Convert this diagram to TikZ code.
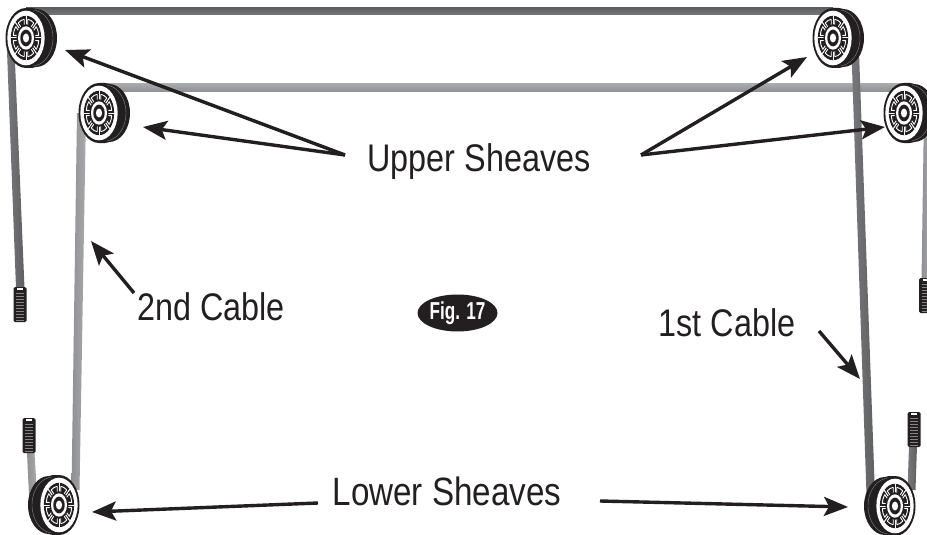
\documentclass[tikz,border=0pt]{standalone}
\usepackage{fontspec}
\setmainfont{Liberation Sans}[FakeStretch=0.84]
\newfontfamily\figfont{Liberation Sans}[FakeStretch=0.70]
\usetikzlibrary{arrows.meta,shapes.geometric}
\definecolor{capd}{HTML}{5F6062}
\definecolor{capm}{HTML}{77787B}
\definecolor{capl}{HTML}{A7A9AC}
\definecolor{capn}{HTML}{8F9193}
\definecolor{ink}{HTML}{231F20}
\tikzset{
  x=1pt,y=-1pt,
  lbl/.style={inner sep=0pt,text=ink,font=\fontsize{38.5}{40}\selectfont},
  callout/.style={draw=ink,line width=3.4pt,-{Stealth[length=24pt,width=19pt,inset=5pt]}},
  darkh/.style={top color=capd,bottom color=capm,draw=none},
  darkv/.style={left color=capm,right color=capd,draw=none},
  lighth/.style={top color=capl,bottom color=capn,draw=none},
  lightv/.style={left color=capn,right color=capl,draw=none},
  pics/sheave/.style={code={
    % rim behind the face, offset to one side
    \fill[ink] (10,-29) arc[start angle=-90,end angle=90,x radius=21,y radius=29]
       -- (0,29) -- (0,-29) -- cycle;
    \fill[ink] (0,-30) -- (6,-30) -- (10,-29) -- (10,29) -- (6,30) -- (0,30) -- cycle;
    \draw[white!45!ink,line width=.4pt] (6,-28) arc[start angle=-90,end angle=90,x radius=21,y radius=28];
    \begin{scope}[xscale=20.5,yscale=30]
      \fill[ink] (0,0) circle[radius=1];
      \fill[white] (0,0) circle[radius=.91];
      \fill[ink] (0,0) circle[radius=.74];
      \foreach \a in {0,45,...,315}{
        \draw[white,line width=1pt] (\a:.40) -- (\a:.74);
        \draw[white,line width=.9pt] (\a+11:.44) -- (\a+8:.63);
        \draw[white,line width=.9pt] (\a-11:.44) -- (\a-8:.63);
        \draw[white,line width=.9pt] (\a+8:.63) arc[start angle=\a+8,end angle=\a+37,radius=.63];
      }
      \fill[ink] (0,0) circle[radius=.46];
      \fill[white] (0,0) circle[radius=.39];
      \fill[ink] (0,0) circle[radius=.28];
      \fill[white] (0,0) circle[radius=.15];
    \end{scope}
  }},
  pics/thread/.style={code={
    \fill[ink,rounded corners=1.5pt] (-6.5,0) rectangle (6.5,35);
    \fill[white] (-3,1.2) rectangle (3,3);
    \foreach \k in {6,9,...,33}{
      \draw[white!45!ink,line width=.6pt] (-4,\k) -- (4,\k);
    }
  }}
}
\begin{document}
\begin{tikzpicture}
\useasboundingbox (0,0) rectangle (927,535);
\fill[white] (0,0) rectangle (927,535);

% named places
\coordinate (s1) at (26,38);
\coordinate (s2) at (99,113);
\coordinate (s3) at (833,38);
\coordinate (s4) at (904,113);
\coordinate (s5) at (59,505);
\coordinate (s6) at (895,506);

% 2nd cable
\shade[lighth] (99,84) -- (905,84) -- (905,91.5) -- (99,91.5) -- cycle;
\shade[lightv] (77,113) -- (86,113) -- (79.5,490) -- (71.5,490) -- cycle;
\shade[lightv] (27,453) -- (34.5,453) -- (37,495) -- (29,495) -- cycle;
\shade[lightv] (924,113) -- (932,113) -- (929,280) -- (921.5,280) -- cycle;
% 1st cable
\shade[darkh] (26,8) -- (833,8) -- (833,15) -- (26,15) -- cycle;
\shade[darkv] (6.5,38) -- (14,38) -- (24.5,288) -- (16,288) -- cycle;
\shade[darkv] (851,38) -- (858.5,38) -- (875,495) -- (866.5,495) -- cycle;
\shade[darkv] (909,446) -- (917,446) -- (915.5,490) -- (907.5,490) -- cycle;

% threaded ends
\pic at (20,287) {thread};
\pic at (925.5,278) {thread};
\pic at (29,418) {thread};
\pic at (914,412) {thread};

% sheaves
\pic at (s1) {sheave};
\pic at (s2) {sheave};
\pic at (s3) {sheave};
\pic at (s4) {sheave};
\pic[xscale=-1] at (s5) {sheave};
\pic[xscale=-1] at (s6) {sheave};

% labels
\node[lbl] (upper) at (479,162) {Upper Sheaves};
\node[lbl,font=\fontsize{39.5}{40}\selectfont] (lower) at (447,491) {Lower Sheaves};
\node[lbl] (second) at (211,307) {2nd Cable};
\node[lbl] (first) at (727,323) {1st Cable};
\node[fill=ink,ellipse,minimum width=80pt,minimum height=37pt,inner sep=0pt,text=white,
  font=\figfont\bfseries\fontsize{24.5}{25}\selectfont] (fig) at (457.5,313) {Fig. 17};

% arrow targets
\coordinate (t1) at (65,50);
\coordinate (t2) at (143,127);
\coordinate (t3) at (807,57);
\coordinate (t4) at (885,127);
\coordinate (t5) at (92,512);
\coordinate (t6) at (848,507);
\coordinate (t7) at (91,241);
\coordinate (t8) at (860,379);
\coordinate (u1) at (345,155);
\coordinate (u2) at (641,155);
\coordinate (l1) at (318,503);
\coordinate (l2) at (600,501);
\coordinate (c2) at (134,293);
\coordinate (c1) at (819,331);

\draw[callout] (u1) -- (t1);
\draw[callout] (u1) -- (t2);
\draw[callout] (u2) -- (t3);
\draw[callout] (u2) -- (t4);
\draw[callout] (l1) -- (t5);
\draw[callout] (l2) -- (t6);
\draw[callout] (c2) -- (t7);
\draw[callout] (c1) -- (t8);
\end{tikzpicture}
\end{document}
